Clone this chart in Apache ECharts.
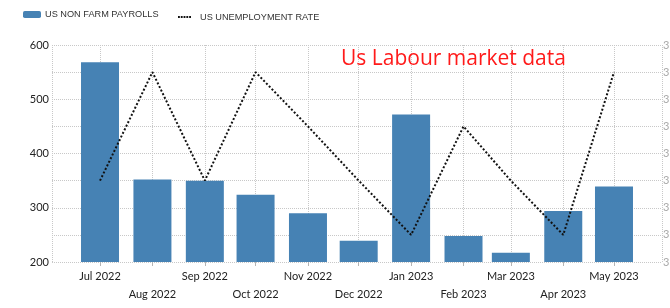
<!DOCTYPE html>
<html>
<head>
<meta charset="utf-8">
<script src="https://cdn.jsdelivr.net/npm/echarts@6/dist/echarts.min.js"></script>
<style>
  html, body { margin: 0; padding: 0; background: #fff; }
  #chart { width: 670px; height: 308px; }
</style>
</head>
<body>
<div id="chart"></div>
<script>
// data
var dates = ['2022-07-01', '2022-08-01', '2022-09-01', '2022-10-01', '2022-11-01', '2022-12-01',
             '2023-01-01', '2023-02-01', '2023-03-01', '2023-04-01', '2023-05-01'];
var monthLabels = ['Jul 2022', 'Aug 2022', 'Sep 2022', 'Oct 2022', 'Nov 2022', 'Dec 2022',
                   'Jan 2023', 'Feb 2023', 'Mar 2023', 'Apr 2023', 'May 2023'];
var payrolls = [568, 352, 350, 324, 290, 239, 472, 248, 217, 294, 339];
var unemployment = [3.5, 3.7, 3.5, 3.7, 3.6, 3.5, 3.4, 3.6, 3.5, 3.4, 3.7];

var DAY = 86400000;
var GRID_W = 610, BAR_W = 38;
// wanted: about 28.4 days of room before the first and after the last month.
// echarts widens a time axis holding bars by half a bar on each side,
// so ask for a little less room and let it add the rest.
var wantPad = 28.4 * DAY;
var first = +new Date(dates[0]), last = +new Date(dates[dates.length - 1]);
var wantRange = last - first + 2 * wantPad;
var askPad = wantPad - wantRange * (BAR_W / GRID_W) / 2;
var xMin = first - askPad;
var xMax = last + askPad;

var font = 'Lato, "Liberation Sans", sans-serif';
var gridColor = '#c8c8c8';
// five small squares, used as the legend icon of the dotted line
var dotIcon = 'path://M0 0h2v2H0z M3 0h2v2H3z M6 0h2v2H6z M9 0h2v2H9z M12 0h2v2h-2z';

function pairs(vals) {
    return vals.map(function (v, i) { return [dates[i], v]; });
}

var chart = echarts.init(document.getElementById('chart'));
chart.setOption({
    animation: false,
    title: {
        text: 'Us Labour market data',
        left: 341, top: 49, padding: 0,
        textStyle: { color: '#ff1a1a', fontSize: 21, fontWeight: 'normal', fontFamily: '"Open Sans", sans-serif' }
    },
    legend: [
        {
            data: ['US NON FARM PAYROLLS'], left: 23, top: 10, padding: 0,
            itemWidth: 18, itemHeight: 7,
            textStyle: { fontSize: 9.2, color: '#333', fontFamily: '"Liberation Sans", sans-serif', padding: [0, 0, 0, -1] }
        },
        {
            data: [{ name: 'US UNEMPLOYMENT RATE', icon: dotIcon }], left: 178, top: 12.5, padding: 0,
            itemWidth: 13, itemHeight: 2,
            textStyle: { fontSize: 9.2, color: '#333', fontFamily: '"Liberation Sans", sans-serif', padding: [0, 0, 0, 4] }
        }
    ],
    grid: { left: 52, right: 8, top: 45, bottom: 46, outerBoundsMode: 'none', containLabel: false },
    xAxis: {
        type: 'time',
        min: xMin, max: xMax,
        splitNumber: 11,
        minInterval: 28 * DAY,
        maxInterval: 31 * DAY,
        axisLine: { show: false },
        axisTick: { show: true, length: 4, lineStyle: { color: '#b4b4b4' } },
        splitLine: { show: true, lineStyle: { color: gridColor, type: [1, 1] } },
        axisLabel: {
            margin: 5, fontSize: 11, lineHeight: 18, color: '#222', fontFamily: font,
            formatter: function (value) {
                var d = new Date(value);
                var i = (d.getFullYear() - 2022) * 12 + d.getMonth() - 6;
                if (i < 0 || i >= monthLabels.length) return '';
                return (i % 2 ? '\n' : '') + monthLabels[i];
            }
        }
    },
    yAxis: [
        {
            type: 'value', min: 200, max: 600, interval: 50,
            axisLine: { show: false }, axisTick: { show: false },
            splitLine: { lineStyle: { color: gridColor, type: [1, 1] } },
            axisLabel: {
                margin: 3, fontSize: 11, color: '#222', fontFamily: font,
                formatter: function (v) { return v % 100 === 0 ? String(v) : ''; }
            }
        },
        {
            type: 'value', min: 3.35, max: 3.75, interval: 0.05,
            axisLine: { show: false }, axisTick: { show: false },
            splitLine: { show: false },
            axisLabel: {
                margin: 1, fontSize: 11, color: '#aaa', fontFamily: font,
                formatter: function (v) { return v.toFixed(2); }
            }
        }
    ],
    series: [
        {
            name: 'US NON FARM PAYROLLS',
            type: 'bar',
            barWidth: BAR_W,
            itemStyle: { color: '#4682b4' },
            data: pairs(payrolls)
        },
        {
            name: 'US UNEMPLOYMENT RATE',
            type: 'line',
            yAxisIndex: 1,
            symbol: 'none',
            itemStyle: { color: '#111' },
            lineStyle: { color: '#111', width: 2, type: [2, 2] },
            data: pairs(unemployment),
            z: 5
        }
    ]
});
</script>
</body>
</html>
